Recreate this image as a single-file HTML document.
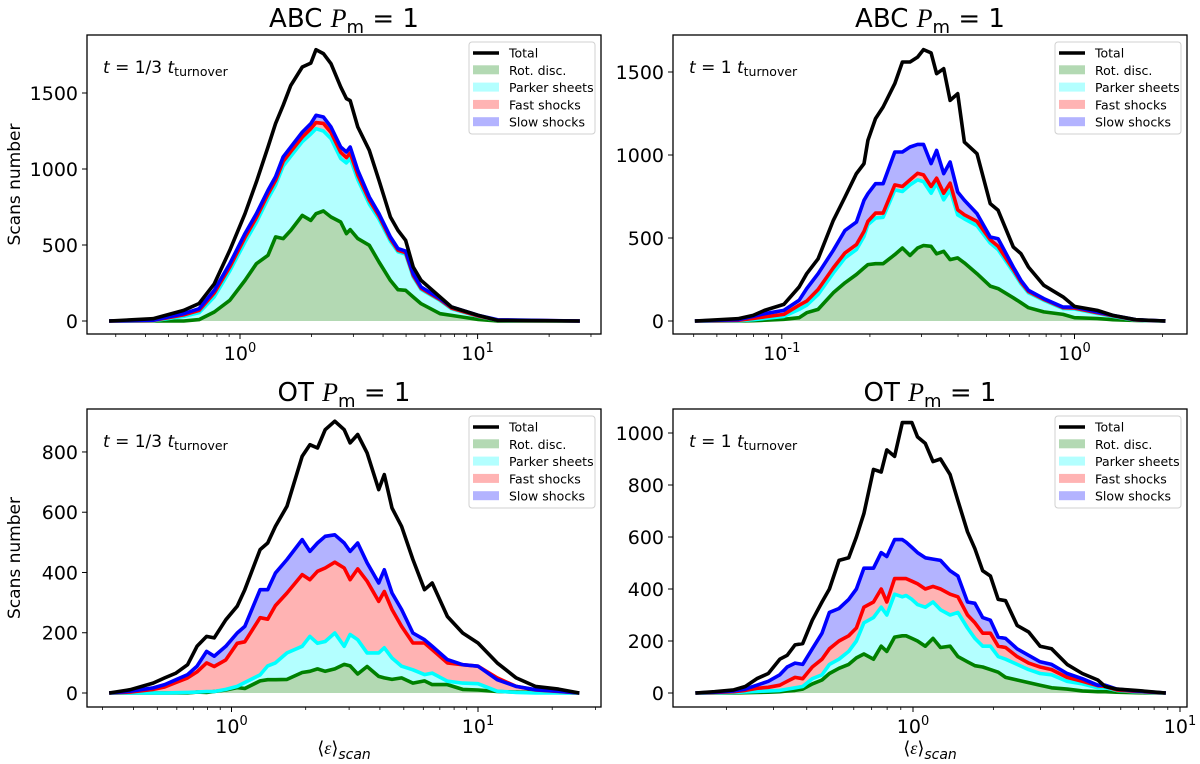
<!DOCTYPE html>
<html><head><meta charset="utf-8"><style>
html,body{margin:0;padding:0;background:#fff;}
svg{display:block;font-family:"DejaVu Sans","Liberation Sans",sans-serif;}
</style></head><body>
<svg id="fig" width="1200" height="764" viewBox="0 0 1200 764" xmlns="http://www.w3.org/2000/svg"></svg>
<script>
// ---- Panel data (log10 of <eps>_scan, stacked cumulative counts) ----
const tlLogEps=[-0.551,-0.366,-0.237,-0.172,-0.108,-0.043,0.021,0.069,0.118,0.150,0.182,0.214,0.262,0.298,0.320,0.351,0.383,0.424,0.448,0.464,0.496,0.544,0.585,0.633,0.665,0.697,0.729,0.762,0.842,0.890,1.003,1.084,1.430];
const tlRot=[0,0,0,9,59,136,267,377,432,553,542,596,695,662,706,724,684,651,575,601,542,498,388,267,206,202,158,114,48,37,10,0,0];
const tlParker=[0,2,30,55,160,330,520,650,805,895,1020,1085,1180,1230,1265,1250,1200,1070,1040,1070,930,770,670,525,455,440,290,208,135,80,30,5,0];
const tlFast=[0,3,40,70,185,355,550,680,835,925,1050,1115,1210,1265,1305,1300,1240,1110,1075,1105,960,795,690,540,465,450,300,215,140,85,33,6,0];
const tlSlow=[0,5,48,81,202,377,575,706,860,950,1080,1145,1243,1298,1353,1342,1276,1145,1112,1145,991,816,706,553,476,460,311,224,147,92,37,8,0];
const tlTotal=[0,15,70,115,245,465,706,915,1145,1300,1420,1550,1671,1697,1785,1759,1693,1540,1463,1450,1276,1123,925,684,596,531,355,267,158,92,37,4,0];

const trLogEps=[-1.297,-1.150,-1.098,-1.059,-0.993,-0.941,-0.915,-0.876,-0.824,-0.784,-0.745,-0.719,-0.706,-0.680,-0.654,-0.614,-0.588,-0.562,-0.536,-0.516,-0.490,-0.471,-0.447,-0.425,-0.399,-0.376,-0.333,-0.288,-0.261,-0.209,-0.183,-0.157,-0.105,-0.039,0.000,0.078,0.131,0.209,0.311];
const trRot=[0,0,2,5,10,20,50,70,170,230,280,320,340,345,345,400,440,395,440,455,450,405,420,370,380,350,285,210,195,140,110,80,55,40,20,15,8,3,0];
const trParker=[0,2,8,15,28,70,95,160,290,380,430,510,580,620,625,790,780,820,850,840,770,830,730,790,640,615,575,470,430,295,225,170,125,75,72,45,28,5,0];
const trFast=[0,4,15,25,40,95,120,190,320,410,460,540,600,650,650,820,810,850,890,880,810,860,770,830,670,640,600,490,450,310,235,178,130,80,78,50,32,6,0];
const trSlow=[0,8,28,44,64,125,195,285,426,546,596,727,767,827,827,1018,1018,1048,1064,1064,948,1028,888,958,777,727,647,506,496,325,245,185,135,84,84,54,34,8,0];
const trTotal=[0,14,34,64,100,205,285,375,606,747,888,948,1088,1219,1289,1430,1560,1560,1590,1635,1615,1490,1520,1329,1369,1078,1008,707,667,446,406,325,215,145,88,64,34,8,0];

const blLogEps=[-0.496,-0.411,-0.318,-0.271,-0.225,-0.178,-0.140,-0.101,-0.070,-0.023,0.023,0.054,0.116,0.147,0.178,0.225,0.287,0.318,0.349,0.380,0.419,0.457,0.481,0.512,0.550,0.597,0.620,0.651,0.690,0.736,0.783,0.814,0.876,0.938,1.000,1.078,1.155,1.233,1.326,1.411];
const blRot=[0,0,0,0,0,0,3,2,5,10,18,15,40,44,44,45,68,72,80,72,80,95,90,63,88,55,50,45,50,33,40,28,28,12,10,5,3,2,1,0];
const blParker=[0,0,0,0,1,2,3,5,5,12,22,35,60,90,100,133,155,188,165,171,199,155,194,177,133,133,150,116,89,77,61,66,39,33,31,6,2,0,0,0];
const blFast=[0,3,12,20,35,50,70,100,88,110,165,170,250,245,290,332,393,376,404,415,434,415,376,412,371,304,337,277,221,166,166,144,100,94,89,50,22,10,5,0];
const blSlow=[0,6,17,28,44,61,89,138,122,155,199,221,343,343,398,443,509,470,498,520,525,498,470,498,432,365,409,332,277,199,177,155,111,94,89,44,22,11,6,0];
const blTotal=[0,11,33,50,66,94,155,188,183,243,288,343,476,498,553,620,786,824,813,874,902,874,830,858,797,675,725,614,553,443,343,365,254,199,166,100,50,22,13,0];

const brLogEps=[-0.815,-0.743,-0.671,-0.628,-0.585,-0.542,-0.499,-0.471,-0.442,-0.413,-0.377,-0.341,-0.313,-0.277,-0.241,-0.212,-0.184,-0.148,-0.119,-0.098,-0.069,-0.040,-0.026,-0.004,0.017,0.046,0.075,0.103,0.139,0.168,0.204,0.232,0.261,0.290,0.319,0.347,0.390,0.433,0.476,0.519,0.577,0.634,0.692,0.720,0.763,0.835,0.947];
const brRot=[0,0,0,1,2,3,5,8,10,15,35,50,75,95,110,135,150,130,180,160,215,220,220,210,200,180,210,175,180,140,120,105,100,90,80,60,50,40,30,20,15,8,5,5,3,1,0];
const brParker=[0,1,2,4,6,8,10,15,20,25,55,70,110,130,160,200,270,290,330,300,380,370,375,360,340,330,350,320,300,310,250,210,180,180,140,130,110,90,75,70,45,35,20,20,10,4,0];
const brFast=[0,2,5,10,18,22,30,45,60,55,100,130,170,200,220,250,330,350,400,350,440,440,440,430,420,400,410,400,380,370,300,270,230,230,180,175,140,115,100,90,60,45,28,25,12,6,0];
const brSlow=[0,3,8,15,30,45,70,100,115,110,170,230,310,325,360,400,480,480,540,525,590,590,580,560,540,520,515,510,470,450,350,345,290,280,215,210,170,145,120,110,75,55,30,30,15,8,0];
const brTotal=[0,5,12,25,55,75,130,145,185,190,280,350,400,510,520,600,690,860,850,935,910,1040,1040,1040,985,960,890,900,840,740,620,555,470,450,360,355,260,235,180,170,110,75,50,25,15,10,0];

const tlYTicks=[0,500,1000,1500];
const trYTicks=[0,500,1000,1500];
const blYTicks=[0,200,400,600,800];
const brYTicks=[0,200,400,600,800,1000];
const legendLabels=["Total","Rot. disc.","Parker sheets","Fast shocks","Slow shocks"];

const NS="http://www.w3.org/2000/svg";
const svg=document.getElementById('fig');
function mk(tag,attrs,parent){const e=document.createElementNS(NS,tag);for(const k in attrs)e.setAttribute(k,attrs[k]);(parent||svg).appendChild(e);return e;}

const panels=[
 {id:'abc-early',title:'ABC',ann:'1/3',x0:87,x1:601,y0:35,y1:334,xZero:240,xDec:237.6,yZero:321,yPer:0.152,xMinLog:-0.7,xMaxLog:1.6,
  lx:[tlLogEps],rot:tlRot,par:tlParker,fast:tlFast,slow:tlSlow,tot:tlTotal,yt:tlYTicks,ylab:true,xlab:false},
 {id:'abc-late',title:'ABC',ann:'1',x0:673,x1:1187,y0:35,y1:334,xZero:1074.5,xDec:292.7,yZero:321,yPer:0.166,xMinLog:-1.4,xMaxLog:0.39,
  lx:[trLogEps],rot:trRot,par:trParker,fast:trFast,slow:trSlow,tot:trTotal,yt:trYTicks,ylab:false,xlab:false},
 {id:'ot-early',title:'OT',ann:'1/3',x0:87,x1:601,y0:409,y1:707,xZero:231.5,xDec:246.5,yZero:693,yPer:0.3013,xMinLog:-0.6,xMaxLog:1.5,
  lx:[blLogEps],rot:blRot,par:blParker,fast:blFast,slow:blSlow,tot:blTotal,yt:blYTicks,ylab:true,xlab:true},
 {id:'ot-late',title:'OT',ann:'1',x0:673,x1:1187,y0:409,y1:707,xZero:913,xDec:267,yZero:693,yPer:0.26,xMinLog:-0.9,xMaxLog:1.03,
  lx:[brLogEps],rot:brRot,par:brParker,fast:brFast,slow:brSlow,tot:brTotal,yt:brYTicks,ylab:false,xlab:true}
];

panels.forEach(p=>{
  const g=mk('g',{});
  
  
  const X=l=>p.xZero+p.xDec*l, Y=v=>p.yZero-v*p.yPer;
  const xs=p.lx[0];
  const clipId='clip-'+p.id;
  const cp=mk('clipPath',{id:clipId},g); mk('rect',{x:p.x0,y:p.y0,width:p.x1-p.x0,height:p.y1-p.y0},cp);
  const pg=mk('g',{'clip-path':'url(#'+clipId+')'},g);
  const pts=arr=>arr.map((v,i)=>X(xs[i]).toFixed(1)+','+Y(v).toFixed(1));
  const band=(lo,hi,fill,name)=>{
    const top=pts(hi), bot=lo?pts(lo).reverse():[X(xs[xs.length-1]).toFixed(1)+','+Y(0),X(xs[0]).toFixed(1)+','+Y(0)];
    const e=mk('polygon',{points:top.concat(bot).join(' '),fill:fill,stroke:'none'},pg);
    
    
  };
  band(null,p.rot,'#b3d9b3','rot-disc-area');
  band(p.rot,p.par,'#b3ffff','parker-sheets-area');
  band(p.par,p.fast,'#ffb3b3','fast-shocks-area');
  band(p.fast,p.slow,'#b3b3ff','slow-shocks-area');
  const line=(arr,col,name)=>{
    const e=mk('polyline',{points:pts(arr).join(' '),fill:'none',stroke:col,'stroke-width':3.6,'stroke-linejoin':'round'},pg);
    
    
  };
  line(p.rot,'#008000','rot-disc-line');
  line(p.par,'#00ffff','parker-sheets-line');
  line(p.fast,'#ff0000','fast-shocks-line');
  line(p.slow,'#0000ff','slow-shocks-line');
  line(p.tot,'#000000','total-line');
  const fr=mk('rect',{x:p.x0,y:p.y0,width:p.x1-p.x0,height:p.y1-p.y0,fill:'none',stroke:'#000','stroke-width':1.3},g);
  
  
  p.yt.forEach(v=>{
    const y=Y(v);
    mk('line',{x1:p.x0,x2:p.x0-5,y1:y,y2:y,stroke:'#000','stroke-width':1},g);
    const t=mk('text',{x:p.x0-9,y:y+7,'font-size':19,'text-anchor':'end',fill:'#000'},g);
    t.textContent=v;
    
    
  });
  for(let d=Math.floor(p.xMinLog);d<=Math.ceil(p.xMaxLog);d++){
    for(let m=1;m<10;m++){
      const l=d+Math.log10(m); const x=X(l);
      if(x<p.x0-0.5||x>p.x1+0.5)continue;
      mk('line',{x1:x,x2:x,y1:p.y1,y2:p.y1+(m===1?5:3),stroke:'#000','stroke-width':m===1?1:0.8},g);
      if(m===1){
        const t=mk('text',{x:x,y:p.y1+26,'font-size':19,'text-anchor':'middle',fill:'#000'},g);
        
        
        t.appendChild(document.createTextNode('10'));
        const s=mk('tspan',{dy:-8,'font-size':13},t); s.textContent=String(d);
      }
    }
  }
  const cx=(p.x0+p.x1)/2;
  const tt=mk('text',{x:cx,y:p.y0-8,'font-size':26,'text-anchor':'middle',fill:'#000'},g);
  
  
  tt.appendChild(document.createTextNode(p.title+' '));
  const ps=mk('tspan',{'font-family':'Liberation Serif, serif','font-style':'italic'},tt); ps.textContent='P';
  const sub=mk('tspan',{dy:6,'font-size':18},tt); sub.textContent='m';
  const rest=mk('tspan',{dy:-6},tt); rest.textContent=' = 1';
  const an=mk('text',{x:p.x0+16,y:p.y0+38,'font-size':17,fill:'#000'},g);
  
  
  const a1=mk('tspan',{'font-style':'italic'},an); a1.textContent='t';
  const a2=mk('tspan',{},an); a2.textContent=' = '+p.ann+' ';
  const a3=mk('tspan',{'font-style':'italic'},an); a3.textContent='t';
  const a4=mk('tspan',{dy:3,'font-size':12.5},an); a4.textContent='turnover';
  const lg=mk('g',{},g);
  
  
  const lx0=p.x1-132, ly0=p.y0+7;
  mk('rect',{x:lx0,y:ly0,width:126,height:92,rx:3,fill:'#fff','fill-opacity':0.8,stroke:'#d0d0d0','stroke-width':1},lg);
  const cols=[null,'#b3d9b3','#b3ffff','#ffb3b3','#b3b3ff'];
  legendLabels.forEach((lab,i)=>{
    const y=ly0+11+i*17.3;
    if(i===0) mk('line',{x1:lx0+4,x2:lx0+30,y1:y,y2:y,stroke:'#000','stroke-width':3.6},lg);
    else mk('rect',{x:lx0+4,y:y-5,width:26,height:9,fill:cols[i]},lg);
    const t=mk('text',{x:lx0+40,y:y+4.5,'font-size':12.5,fill:'#000'},lg);
    t.textContent=lab;
    
    
  });
  if(p.ylab){
    const yc=(p.y0+p.y1)/2;
    const t=mk('text',{x:0,y:0,'font-size':17,'text-anchor':'middle',fill:'#000',transform:'translate(20,'+yc+') rotate(-90)'},g);
    t.textContent='Scans number';
    
    
  }
  if(p.xlab){
    const t=mk('text',{x:cx,y:p.y1+47,'font-size':18,'text-anchor':'middle',fill:'#000'},g);
    
    
    t.appendChild(document.createTextNode('⟨'));
    const e=mk('tspan',{'font-style':'italic','font-family':'Liberation Serif, serif'},t); e.textContent='ε';
    const c=mk('tspan',{},t); c.textContent='⟩';
    const s=mk('tspan',{dy:5,'font-size':14,'font-style':'italic'},t); s.textContent='scan';
  }
});
</script>
</body></html>
